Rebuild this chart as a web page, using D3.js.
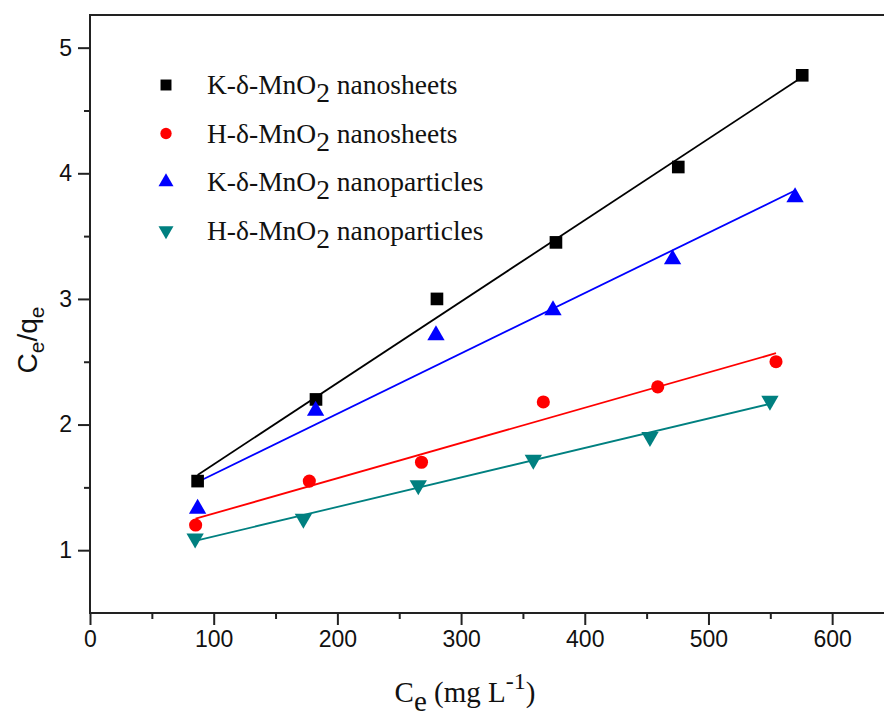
<!DOCTYPE html>
<html>
<head>
<meta charset="utf-8">
<script src="https://cdn.jsdelivr.net/npm/d3@7"></script>
<style>
  body { margin: 0; background: #fff; }
  svg { display: block; }
  .tick text { font-family: "Liberation Sans", Arial, sans-serif; font-size: 23px; fill: #111; }
  .legend text { font-family: "Liberation Serif", "Times New Roman", serif; font-size: 27.5px; fill: #111; }
</style>
</head>
<body>
<svg id="chart" width="884" height="725"></svg>
<script>
// values
var seriesNames = ['K-δ-MnO2 nanosheets', 'H-δ-MnO2 nanosheets', 'K-δ-MnO2 nanoparticles', 'H-δ-MnO2 nanoparticles'];
var kSheetsX = [87, 182.7, 280.5, 376.7, 475.6, 575.8];
var kSheetsY = [1.55, 2.2, 3.0, 3.45, 4.05, 4.78];
var hSheetsX = [85.4, 177.3, 268, 366.5, 459, 554.6];
var hSheetsY = [1.2, 1.55, 1.7, 2.18, 2.3, 2.5];
var kPartX = [87, 182.4, 279.7, 374.3, 471, 570];
var kPartY = [1.33, 2.11, 2.71, 2.91, 3.315, 3.81];
var hPartX = [85, 172.5, 265.4, 358.4, 452.7, 549.7];
var hPartY = [1.093, 1.25, 1.517, 1.72, 1.9, 2.19];
var xTicks = [0, 100, 200, 300, 400, 500, 600];
var yTicks = [1, 2, 3, 4, 5];

var colors = ['#000000', '#ff0000', '#0000ff', '#008080'];
var symbols = [d3.symbolSquare, d3.symbolCircle, d3.symbolTriangle, d3.symbolTriangle];
var rotations = [0, 0, 0, 180];
var sizes = [160, 135, 130, 130];

var series = [
  {xs: kSheetsX, ys: kSheetsY},
  {xs: hSheetsX, ys: hSheetsY},
  {xs: kPartX, ys: kPartY},
  {xs: hPartX, ys: hPartY}
];

var svg = d3.select('#chart');
var pLeft = 90, pTop = 15, pBottom = 613, pRight = 894;

var x = d3.scaleLinear().domain([0, 650]).range([pLeft, pRight]);
var y = d3.scaleLinear().domain([0.5, 5.26]).range([pBottom, pTop]);

// least squares fit for each series
function fit(xs, ys) {
  var mx = d3.mean(xs), my = d3.mean(ys), sxy = 0, sxx = 0;
  xs.forEach(function(v, i) { sxy += (v - mx) * (ys[i] - my); sxx += (v - mx) * (v - mx); });
  var b = sxy / sxx;
  return {b: b, a: my - b * mx};
}

// frame
svg.append('rect')
  .attr('x', pLeft).attr('y', pTop)
  .attr('width', pRight - pLeft).attr('height', pBottom - pTop)
  .attr('fill', 'none').attr('stroke', '#222').attr('stroke-width', 2);

// axes
var xMinor = d3.range(50, 650, 100);
var yMinor = [1.5, 2.5, 3.5, 4.5];

function axisLayer(axis, transform) {
  svg.append('g')
    .attr('transform', transform)
    .call(axis)
    .call(function(g) { g.select('.domain').remove(); })
    .selectAll('line').attr('stroke', '#222').attr('stroke-width', 2);
}

axisLayer(d3.axisBottom(x).tickValues(xMinor).tickSize(6).tickFormat(''), 'translate(0,' + pBottom + ')');
axisLayer(d3.axisBottom(x).tickValues(xTicks).tickSize(12).tickPadding(6).tickFormat(d3.format('d')), 'translate(0,' + pBottom + ')');
axisLayer(d3.axisLeft(y).tickValues(yMinor).tickSize(6).tickFormat(''), 'translate(' + pLeft + ',0)');
axisLayer(d3.axisLeft(y).tickValues(yTicks).tickSize(12).tickPadding(6).tickFormat(d3.format('d')), 'translate(' + pLeft + ',0)');

// fitted lines
series.forEach(function(s, i) {
  var f = fit(s.xs, s.ys);
  var x0 = d3.min(s.xs), x1 = d3.max(s.xs);
  svg.append('line')
    .attr('x1', x(x0)).attr('y1', y(f.a + f.b * x0))
    .attr('x2', x(x1)).attr('y2', y(f.a + f.b * x1))
    .attr('stroke', colors[i]).attr('stroke-width', 1.8);
});

// points
series.forEach(function(s, i) {
  svg.append('g').selectAll('path')
    .data(s.xs.map(function(v, j) { return [v, s.ys[j]]; }))
    .enter().append('path')
    .attr('d', d3.symbol().type(symbols[i]).size(sizes[i]))
    .attr('transform', function(d) {
      return 'translate(' + x(d[0]) + ',' + y(d[1]) + ') rotate(' + rotations[i] + ')';
    })
    .attr('fill', colors[i]);
});

// legend
var legend = svg.append('g').attr('class', 'legend');
seriesNames.forEach(function(name, i) {
  var ly = 85 + i * 48.5;
  legend.append('path')
    .attr('d', d3.symbol().type(symbols[i]).size(sizes[i] * 0.75))
    .attr('transform', 'translate(166,' + ly + ') rotate(' + rotations[i] + ')')
    .attr('fill', colors[i]);
  var parts = name.split('2');
  var t = legend.append('text').attr('x', 207).attr('y', ly + 9);
  t.append('tspan').text(parts[0]);
  t.append('tspan').attr('dy', 8).text('2');
  t.append('tspan').attr('dy', -8).text(parts[1]);
});

// axis titles
var yt = svg.append('text')
  .attr('transform', 'translate(37,340) rotate(-90)')
  .attr('text-anchor', 'middle')
  .style('font-family', '"Liberation Sans", Arial, sans-serif')
  .style('font-size', '28px').attr('fill', '#111');
yt.append('tspan').text('C');
yt.append('tspan').attr('dy', 7).style('font-size', '21px').text('e');
yt.append('tspan').attr('dy', -7).text('/q');
yt.append('tspan').attr('dy', 7).style('font-size', '21px').text('e');

var xt = svg.append('text')
  .attr('x', 465).attr('y', 702)
  .attr('text-anchor', 'middle')
  .style('font-family', '"Liberation Serif", "Times New Roman", serif')
  .style('font-size', '29px').attr('fill', '#111');
xt.append('tspan').text('C');
xt.append('tspan').attr('dy', 9).text('e');
xt.append('tspan').attr('dy', -9).text(' (mg L');
xt.append('tspan').attr('dy', -13).style('font-size', '24px').text('-1');
xt.append('tspan').attr('dy', 13).text(')');
</script>
</body>
</html>
